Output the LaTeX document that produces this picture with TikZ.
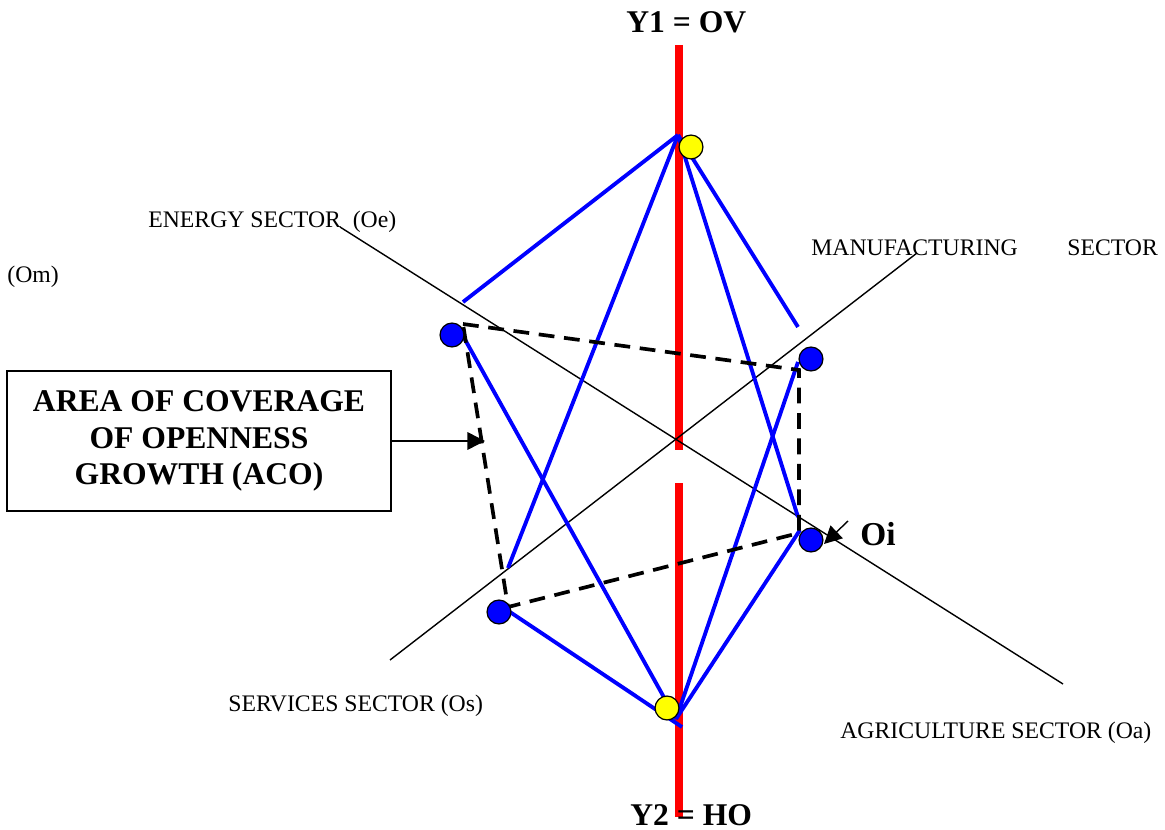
\documentclass[tikz,border=0pt]{standalone}
\usepackage{fontspec}
\setmainfont{Liberation Serif}
\usepackage{tikz}
\usetikzlibrary{arrows.meta}
\definecolor{acoBlue}{HTML}{0000FF}
\definecolor{acoRed}{HTML}{FF0000}
\definecolor{acoYellow}{HTML}{FFFF00}

\begin{document}
\begin{tikzpicture}[
  x=0.02cm, y=-0.02cm,
  axis/.style={draw=acoRed, line width=4.2pt},
  sector/.style={draw=black, line width=0.8pt},
  link/.style={draw=acoBlue, line width=2.2pt},
  area/.style={draw=black, line width=2.1pt, dash pattern=on 9pt off 5.5pt},
  dot/.style={circle, draw=black, line width=0.7pt, minimum size=13.6pt, inner sep=0pt},
  lbl/.style={font=\fontsize{13.5}{16}\selectfont, inner sep=0pt, anchor=base west},
  head/.style={font=\fontsize{18}{21}\selectfont\bfseries, inner sep=0pt, anchor=base west},
  pointer/.style={-{Triangle[length=10pt,width=10pt]}, line width=0.8pt}
]
\useasboundingbox (0,0) rectangle (1165,830);

\coordinate (ovTop) at (679,45);
\coordinate (ovEnd) at (679,450);
\coordinate (hoTop) at (679,483);
\coordinate (hoEnd) at (679,817);
\coordinate (eStart) at (340,227);
\coordinate (eEnd) at (1063,684);
\coordinate (mStart) at (390,660);
\coordinate (mEnd) at (917,253);
\coordinate (apexTop) at (678,135);
\coordinate (apexBot) at (676,719);

\coordinate (qa) at (463,324);
\coordinate (qb) at (799,370);
\coordinate (qc) at (799,533);
\coordinate (qd) at (508,607);

\draw[axis] (ovTop) -- (ovEnd);
\draw[axis] (hoTop) -- (hoEnd);

\draw[sector] (eStart) -- (eEnd);
\draw[sector] (mStart) -- (mEnd);

\draw[link] (apexTop) -- (463,302);
\draw[link] (apexTop) -- (508,568);
\draw[link] (apexTop) -- (798,517);
\draw[link] (apexTop) -- (798,327);
\draw[link] (463,336) -- (apexBot);
\draw[link] (798,362) -- (apexBot);
\draw[link] (800,530) -- (apexBot);
\draw[link] (510,612) -- (682,727);

\draw[area] (qa) -- (qb) -- (qc) -- (qd) -- cycle;

\node[dot, fill=acoYellow] (ov) at (691,147) {};
\node[dot, fill=acoYellow] (ho) at (667,708) {};
\node[dot, fill=acoBlue] (oe) at (452,335) {};
\node[dot, fill=acoBlue] (om) at (811,359) {};
\node[dot, fill=acoBlue] (oa) at (811,540) {};
\node[dot, fill=acoBlue] (os) at (499,612) {};

\node[head] (y1) at (626,33) {Y1 = OV};
\node[head] (y2) at (630,825) {Y2 = HO};
\node[head, font=\fontsize{19}{21}\selectfont\bfseries] (oi) at (860,545) {Oi};

\node[lbl] (energy) at (148,228) {ENERGY SECTOR\ \ (Oe)};
\node[lbl] (omLbl) at (7,283) {(Om)};
\node[lbl] (manu) at (811,256) {MANUFACTURING};
\node[lbl] (manuSec) at (1067,256) {SECTOR};
\node[lbl] (services) at (228,711) {SERVICES SECTOR (Os)};
\node[lbl] (agri) at (840,738) {AGRICULTURE SECTOR (Oa)};

\node[draw, line width=1.1pt, minimum width=7.68cm, minimum height=2.8cm, align=center,
      font=\fontsize{18}{21}\selectfont\bfseries] (aco) at (199,441)
  {AREA OF COVERAGE\\OF OPENNESS\\GROWTH (ACO)};

\coordinate (acoTip) at (485,441);
\coordinate (oiTail) at (848,521);
\coordinate (oiTip) at (824,544);
\draw[pointer] (aco.east) -- (acoTip);
\draw[pointer] (oiTail) -- (oiTip);

\end{tikzpicture}
\end{document}
